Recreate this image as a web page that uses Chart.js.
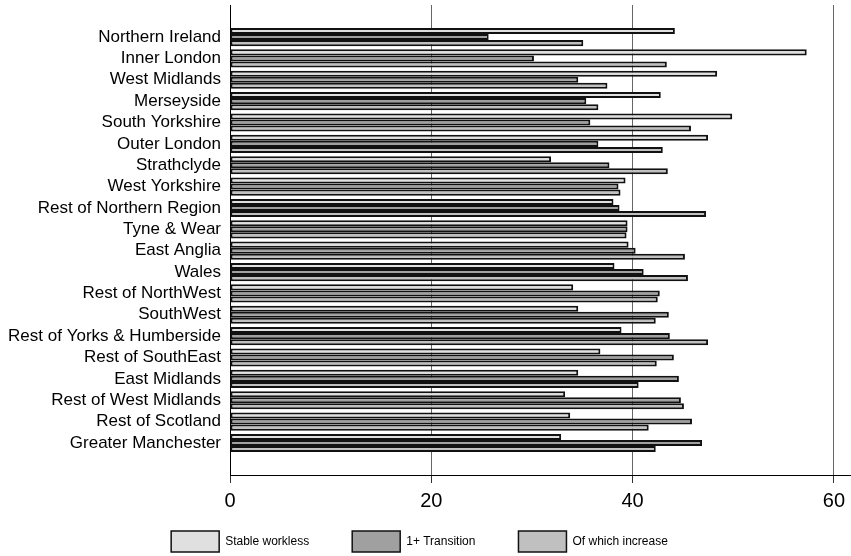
<!DOCTYPE html>
<html>
<head>
<meta charset="utf-8">
<title>Workless households by region</title>
<script src="https://cdn.jsdelivr.net/npm/chart.js@4/dist/chart.umd.min.js"></script>
<style>
  html, body { margin: 0; padding: 0; background: #fff; overflow: hidden; }
  #wrap { width: 851px; height: 594px; }
</style>
</head>
<body>
<div id="wrap"><canvas id="chart"></canvas></div>
<script>
// regions, top to bottom
var regions = ["Northern Ireland", "Inner London", "West Midlands", "Merseyside", "South Yorkshire",
  "Outer London", "Strathclyde", "West Yorkshire", "Rest of Northern Region", "Tyne & Wear",
  "East Anglia", "Wales", "Rest of NorthWest", "SouthWest", "Rest of Yorks & Humberside",
  "Rest of SouthEast", "East Midlands", "Rest of West Midlands", "Rest of Scotland", "Greater Manchester"];

var stableWorkless = [44.2, 57.3, 48.4, 42.8, 49.9, 47.5, 31.9, 39.3, 38.1, 39.5,
  39.6, 38.2, 34.1, 34.6, 38.9, 36.8, 34.6, 33.3, 33.8, 32.9];
var transition = [25.7, 30.2, 34.6, 35.4, 35.8, 36.6, 37.7, 38.6, 38.7, 39.5,
  40.3, 41.1, 42.7, 43.6, 43.7, 44.1, 44.6, 44.8, 45.9, 46.9];
var ofWhichIncrease = [35.1, 43.4, 37.5, 36.6, 45.8, 43.0, 43.5, 38.8, 47.3, 39.4,
  45.2, 45.5, 42.5, 42.3, 47.5, 42.4, 40.6, 45.1, 41.6, 42.3];

var seriesNames = ["Stable workless", "1+ Transition", "Of which increase"];
var xTicks = [0, 20, 40, 60];

// blank slot above and below the regions, like the original spacing
function pad(arr) { return [null].concat(arr, [null]); }

var colors = ["#e0e0e0", "#a0a0a0", "#c0c0c0"];
var values = [stableWorkless, transition, ofWhichIncrease];

var datasets = [];
for (var i = 0; i < values.length; i++) {
  datasets.push({
    label: seriesNames[i],
    data: pad(values[i]),
    backgroundColor: colors[i],
    borderColor: "#111",
    borderWidth: 2,
    borderSkipped: false,
    categoryPercentage: 0.85,
    barPercentage: 1.0
  });
}

// legend sits closer to the axis than chart.js would put it
var legendNudge = {
  id: "legendNudge",
  afterLayout: function(chart) {
    var lg = chart.legend;
    var h = lg.bottom - lg.top;
    lg.top = 488;
    lg.bottom = lg.top + h;
    lg.left -= 6;
    lg.right -= 6;
  }
};

new Chart(document.getElementById("chart").getContext("2d"), {
  type: "bar",
  data: { labels: [""].concat(regions, [""]), datasets: datasets },
  plugins: [legendNudge],
  options: {
    indexAxis: "y",
    responsive: true,
    maintainAspectRatio: false,
    animation: false,
    layout: { autoPadding: false, padding: { top: 5, right: 0, left: 0, bottom: 0 } },
    plugins: {
      tooltip: { enabled: false },
      legend: {
        position: "bottom",
        labels: {
          boxWidth: 48,
          boxHeight: 21,
          padding: 43,
          color: "#000",
          font: { family: "'Liberation Sans', Arial", size: 12 },
          generateLabels: function(chart) {
            return chart.data.datasets.map(function(ds, k) {
              return {
                text: ds.label,
                fillStyle: ds.backgroundColor,
                strokeStyle: "#111",
                lineWidth: 1.5,
                datasetIndex: k
              };
            });
          }
        }
      }
    },
    scales: {
      x: {
        min: 0,
        max: 61.7,
        afterBuildTicks: function(scale) {
          scale.ticks = xTicks.map(function(v) { return { value: v }; });
        },
        afterFit: function(scale) {
          scale.height = 45;
          scale.paddingLeft = 0;
          scale.paddingRight = 0;
        },
        grid: { color: "#666", lineWidth: 1, tickLength: 8, tickColor: "#333" },
        border: { color: "#000", width: 1 },
        ticks: {
          padding: 6,
          color: "#000",
          font: { family: "'Liberation Sans', Arial", size: 20 }
        }
      },
      y: {
        afterFit: function(scale) {
          scale.width = 230;
          scale.paddingTop = 0;
          scale.paddingBottom = 0;
        },
        grid: { drawOnChartArea: false, drawTicks: false },
        border: { color: "#000", width: 1 },
        ticks: {
          padding: 9,
          autoSkip: false,
          color: "#000",
          font: { family: "'Liberation Sans', Arial", size: 17 }
        }
      }
    }
  }
});
</script>
</body>
</html>
